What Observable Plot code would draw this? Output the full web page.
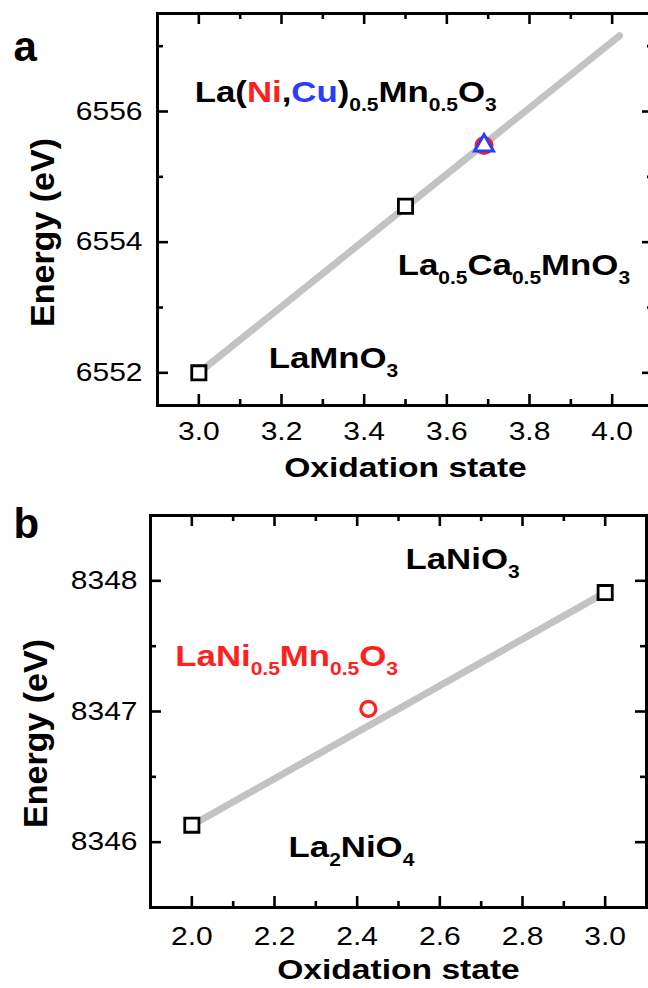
<!DOCTYPE html>
<html>
<head>
<meta charset="utf-8">
<script src="https://cdn.jsdelivr.net/npm/d3@7"></script>
<script src="https://cdn.jsdelivr.net/npm/@observablehq/plot@0.6"></script>
<style>
html, body { margin: 0; padding: 0; background: #fff; overflow: hidden; width: 648px; height: 988px; }
#chart { position: relative; width: 648px; height: 988px; overflow: hidden; }
#chart svg { display: block; max-width: none !important; }
</style>
</head>
<body>
<div id="chart"></div>
<script>
// ---------- Panel a data ----------
const aRefX = [3.0, 3.5];                 // LaMnO3, La0.5Ca0.5MnO3
const aRefY = [6552.0, 6554.55];
const aNiX = [3.69];
const aNiY = [6555.48];
const aCuX = [3.69];
const aCuY = [6555.48];
const aFitX = [3.0, 4.018];
const aFitY = [6552.0, 6557.16];
const aLabels = ["La([#ff2020|Ni],[#2a3cff|Cu])_{0.5}Mn_{0.5}O_{3}", "La_{0.5}Ca_{0.5}MnO_{3}", "LaMnO_{3}"];
const aLabelX = [2.99, 3.481, 3.169];
const aLabelY = [6556.14, 6553.49, 6552.07];
const aXTicks = [3.0, 3.2, 3.4, 3.6, 3.8, 4.0];
const aXMinor = [3.1, 3.3, 3.5, 3.7, 3.9];
const aYTicks = [6552, 6554, 6556];
const aYMinor = [6553, 6555, 6557];
const aXDomain = [2.9, 4.1];
const aYDomain = [6551.5, 6557.5];

// ---------- Panel b data ----------
const bRefX = [2.0, 3.0];                 // La2NiO4, LaNiO3
const bRefY = [8346.13, 8347.91];
const bSampleX = [2.427];                 // LaNi0.5Mn0.5O3
const bSampleY = [8347.02];
const bFitX = [2.0, 3.0];
const bFitY = [8346.13, 8347.91];
const bLabels = ["LaNiO_{3}", "LaNi_{0.5}Mn_{0.5}O_{3}", "La_{2}NiO_{4}"];
const bLabelX = [2.517, 1.960, 2.234];
const bLabelY = [8348.094, 8347.352, 8345.883];
const bLabelColors = ["black", "#ff2020", "black"];
const bXTicks = [2.0, 2.2, 2.4, 2.6, 2.8, 3.0];
const bXMinor = [2.1, 2.3, 2.5, 2.7, 2.9];
const bYTicks = [8346, 8347, 8348];
const bYMinor = [8346.5, 8347.5];
const bXDomain = [1.9, 3.1];
const bYDomain = [8345.5, 8348.5];

const xTitle = "Oxidation state";
const yTitle = "Energy (eV)";

// ---------- styling ----------
const FONT = "'Liberation Sans', Arial, Helvetica, sans-serif";
const STRETCH = 1.2;
const SUB_SIZE = 17.5;
const SUB_SHIFT = 9;
const RED = "#ff2020";
const BLUE = "#2a3cff";
const GRAY = "#c3c3c3";
const MAJ = 11, MIN = 6;

function frameTicks(xMaj, xMin, yMaj, yMin, fw, fh) {
  const st = {stroke: "black", strokeWidth: 2.6};
  return [
    Plot.ruleX(xMaj, {x: d => d, insetTop: fh - MAJ, ...st}),
    Plot.ruleX(xMaj, {x: d => d, insetBottom: fh - MAJ, ...st}),
    Plot.ruleX(xMin, {x: d => d, insetTop: fh - MIN, ...st}),
    Plot.ruleX(xMin, {x: d => d, insetBottom: fh - MIN, ...st}),
    Plot.ruleY(yMaj, {y: d => d, insetRight: fw - MAJ, ...st}),
    Plot.ruleY(yMaj, {y: d => d, insetLeft: fw - MAJ, ...st}),
    Plot.ruleY(yMin, {y: d => d, insetRight: fw - MIN, ...st}),
    Plot.ruleY(yMin, {y: d => d, insetLeft: fw - MIN, ...st})
  ];
}

function richText(svg) {
  svg.querySelectorAll("text").forEach(t => {
    const s = t.textContent;
    if (!/[_\[]/.test(s)) return;
    t.textContent = "";
    let shifted = false;
    const add = (str, opts) => {
      const ts = document.createElementNS("http://www.w3.org/2000/svg", "tspan");
      ts.textContent = str;
      if (opts.sub) {
        ts.setAttribute("font-size", SUB_SIZE);
        if (!shifted) { ts.setAttribute("dy", SUB_SHIFT); shifted = true; }
      } else if (shifted) {
        ts.setAttribute("dy", -SUB_SHIFT); shifted = false;
      }
      if (opts.fill) ts.setAttribute("fill", opts.fill);
      t.appendChild(ts);
    };
    const re = /_\{([^}]*)\}|\[([^|\]]+)\|([^\]]+)\]|([^_\[]+)/g;
    let m;
    while ((m = re.exec(s))) {
      if (m[1] !== undefined) add(m[1], {sub: true});
      else if (m[2] !== undefined) add(m[3], {fill: m[2]});
      else add(m[4], {});
    }
  });
}

function stretch(svg, skip) {
  svg.querySelectorAll("text").forEach(t => {
    if (skip.has(t.textContent)) return;
    const tr = t.getAttribute("transform") || "";
    t.setAttribute("transform", tr + ` scale(${STRETCH},1)`);
  });
}

// ---------- Panel a ----------
const aW = 660, aH = 490, aML = 157, aMR = 7, aMT = 13, aMB = 85;
const aFW = aW - aML - aMR, aFH = aH - aMT - aMB;
const plotA = Plot.plot({
  width: aW, height: aH,
  marginLeft: aML, marginRight: aMR, marginTop: aMT, marginBottom: aMB,
  style: {fontFamily: FONT, color: "black", background: "white", overflow: "visible"},
  x: {domain: aXDomain},
  y: {domain: aYDomain},
  marks: [
    ...frameTicks(aXTicks, aXMinor, aYTicks, aYMinor, aFW, aFH),
    Plot.line(aFitX.map((x, i) => ({x, y: aFitY[i]})), {x: "x", y: "y", stroke: GRAY, strokeWidth: 7, strokeLinecap: "round"}),
    Plot.dot(aRefX.map((x, i) => ({x, y: aRefY[i]})), {x: "x", y: "y", symbol: "square", r: 8, stroke: "black", strokeWidth: 2.8, fill: "white"}),
    Plot.dot(aNiX.map((x, i) => ({x, y: aNiY[i]})), {x: "x", y: "y", symbol: "circle", r: 8, stroke: RED, strokeWidth: 3, fill: "white"}),
    Plot.dot(aCuX.map((x, i) => ({x, y: aCuY[i]})), {x: "x", y: "y", symbol: "triangle", r: 7, stroke: BLUE, strokeWidth: 3, fill: "white"}),
    Plot.text(aLabels.map((t, i) => ({t, x: aLabelX[i], y: aLabelY[i]})), {x: "x", y: "y", text: "t", textAnchor: "start", lineAnchor: "bottom", fontSize: 29, fontWeight: "bold", fill: "black"}),
    Plot.frame({stroke: "black", strokeWidth: 3}),
    Plot.axisX({ticks: aXTicks, tickSize: 0, tickPadding: 17, tickFormat: d => d.toFixed(1), fontSize: 25, label: null}),
    Plot.axisY({ticks: aYTicks, tickSize: 0, tickPadding: 15, tickFormat: d => String(d), fontSize: 25, label: null}),
    Plot.text([xTitle], {frameAnchor: "bottom", textAnchor: "middle", dy: 71, lineAnchor: "bottom", fontSize: 28, fontWeight: "bold"}),
    Plot.text([yTitle], {frameAnchor: "left", textAnchor: "middle", rotate: -90, dx: -104, dy: 23, lineAnchor: "bottom", fontSize: 34, fontWeight: "bold"}),
    Plot.text(["a"], {frameAnchor: "top-left", dx: 13 - aML, dy: 60 - aMT, textAnchor: "start", lineAnchor: "bottom", fontSize: 42, fontWeight: "bold"})
  ]
});

// ---------- Panel b ----------
const bW = 648, bH = 498, bML = 150, bMR = 2, bMT = 25, bMB = 81;
const bFW = bW - bML - bMR, bFH = bH - bMT - bMB;
const plotB = Plot.plot({
  width: bW, height: bH,
  marginLeft: bML, marginRight: bMR, marginTop: bMT, marginBottom: bMB,
  style: {fontFamily: FONT, color: "black", background: "white", overflow: "visible"},
  x: {domain: bXDomain},
  y: {domain: bYDomain},
  marks: [
    ...frameTicks(bXTicks, bXMinor, bYTicks, bYMinor, bFW, bFH),
    Plot.line(bFitX.map((x, i) => ({x, y: bFitY[i]})), {x: "x", y: "y", stroke: GRAY, strokeWidth: 7, strokeLinecap: "round"}),
    Plot.dot(bRefX.map((x, i) => ({x, y: bRefY[i]})), {x: "x", y: "y", symbol: "square", r: 8, stroke: "black", strokeWidth: 2.8, fill: "white"}),
    Plot.dot(bSampleX.map((x, i) => ({x, y: bSampleY[i]})), {x: "x", y: "y", symbol: "circle", r: 7.5, stroke: RED, strokeWidth: 3.2, fill: "white"}),
    Plot.text(bLabels.map((t, i) => ({t, x: bLabelX[i], y: bLabelY[i], c: bLabelColors[i]})), {x: "x", y: "y", text: "t", fill: "c", textAnchor: "start", lineAnchor: "bottom", fontSize: 29, fontWeight: "bold"}),
    Plot.frame({stroke: "black", strokeWidth: 3}),
    Plot.axisX({ticks: bXTicks, tickSize: 0, tickPadding: 20, tickFormat: d => d.toFixed(1), fontSize: 25, label: null}),
    Plot.axisY({ticks: bYTicks, tickSize: 0, tickPadding: 13, tickFormat: d => String(d), fontSize: 25, label: null}),
    Plot.text([xTitle], {frameAnchor: "bottom", textAnchor: "middle", dy: 71, lineAnchor: "bottom", fontSize: 28, fontWeight: "bold"}),
    Plot.text([yTitle], {frameAnchor: "left", textAnchor: "middle", rotate: -90, dx: -104, dy: 22, lineAnchor: "bottom", fontSize: 34, fontWeight: "bold"}),
    Plot.text(["b"], {frameAnchor: "top-left", dx: 13 - bML, dy: 537 - 490 - bMT, textAnchor: "start", lineAnchor: "bottom", fontSize: 42, fontWeight: "bold"})
  ]
});

const chart = document.getElementById("chart");
chart.appendChild(plotA);
chart.appendChild(plotB);
const skip = new Set(["a", "b", yTitle]);
for (const svg of [plotA, plotB]) {
  stretch(svg, skip);
  richText(svg);
}
</script>
</body>
</html>
